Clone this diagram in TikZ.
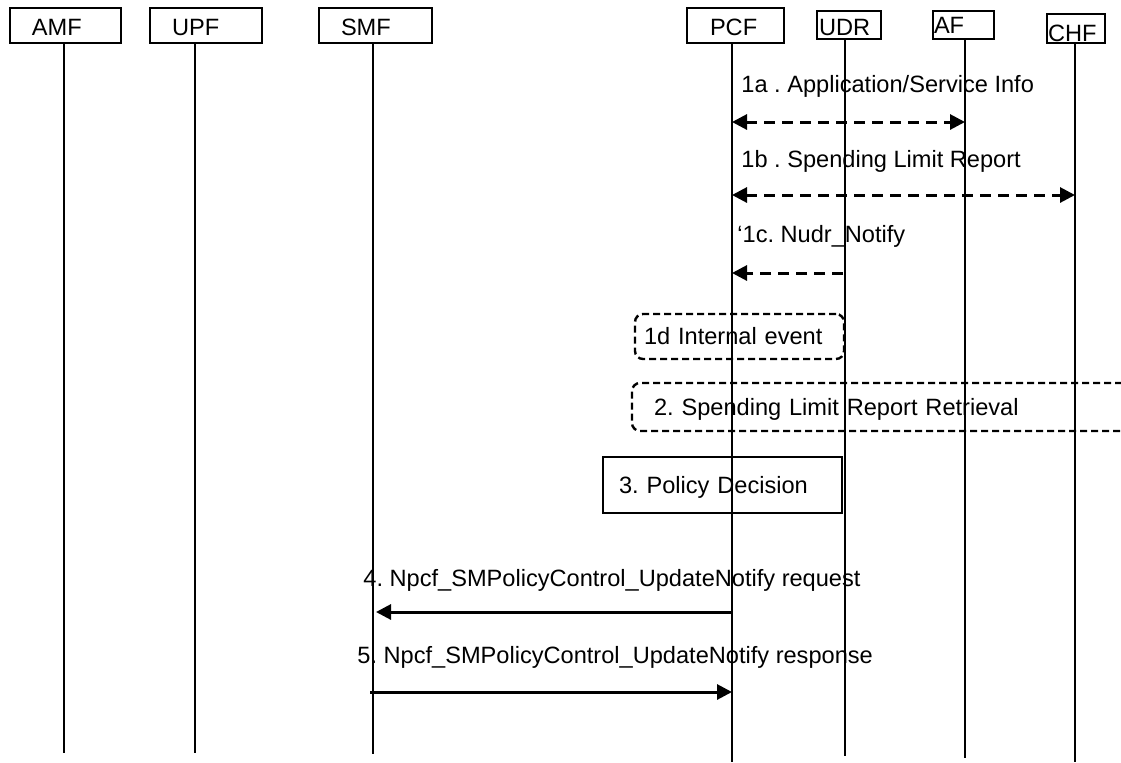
\documentclass[tikz,border=0pt]{standalone}
\usepackage{fontspec}
\setmainfont{Liberation Sans}
\usetikzlibrary{arrows.meta}
\frenchspacing
\tikzset{
  every node/.style={font=\fontsize{11.8}{14}\selectfont},
  hdrbox/.style={draw, rectangle, line width=0.6pt, inner ysep=0pt, text height=10pt, text depth=0pt, align=left, minimum height=17.5pt},
  hdrthick/.style={hdrbox, line width=1pt, minimum height=14pt},
  lifeline/.style={line width=1pt},
  dmsg/.style={line width=1.5pt, dash pattern=on 5.5pt off 3.5pt},
  smsg/.style={line width=1.5pt},
  tip/.style={-{Triangle[length=7.5pt,width=7.5pt]}},
  bothtip/.style={{Triangle[length=7.5pt,width=7.5pt]}-{Triangle[length=7.5pt,width=7.5pt]}},
  lbl/.style={anchor=base west, inner sep=0pt},
  evbox/.style={draw, rectangle, rounded corners=4pt, line width=1.2pt, dash pattern=on 3.5pt off 2pt, inner ysep=0pt, text height=8.45pt, text depth=0pt, align=left},
  decbox/.style={draw, rectangle, line width=0.8pt, inner ysep=0pt, text height=8.45pt, text depth=0pt, align=left}
}
\begin{document}
\begin{tikzpicture}[x=0.5pt, y=-0.5pt]
\clip (0,0) rectangle (1121,762);
\fill[white] (0,0) rectangle (1121,762);

% header boxes
\node[hdrbox, inner xsep=11pt, text width=33.5pt] (amf) at (65.5,25.5) {AMF};
\node[hdrbox, inner xsep=11pt, text width=34pt] (upf) at (206,25.5) {UPF};
\node[hdrbox, inner xsep=11pt, text width=34.5pt] (smf) at (375.5,25.5) {SMF};
\node[hdrbox, inner xsep=11.5pt, text width=25.5pt] (pcf) at (735.5,25.5) {PCF};
\node[hdrthick, inner xsep=1pt, text width=30pt, text height=10pt] (udr) at (849,25) {UDR};
\node[hdrthick, inner xsep=0.5pt, text width=29.5pt, text height=8pt] (af) at (963.5,25) {AF};
\node[hdrthick, inner xsep=0.5pt, text width=28pt, text height=12.5pt, minimum height=14.5pt] (chf) at (1076,28.5) {CHF};

% lifeline ends
\coordinate (amfend) at (64,753);
\coordinate (upfend) at (194.5,753);
\coordinate (smfend) at (373,754);
\coordinate (pcfend) at (732,762);
\coordinate (udrend) at (845,756);
\coordinate (afend) at (965,758);
\coordinate (chfend) at (1075,762);

\draw[lifeline] (amf.south -| amfend) -- (amfend);
\draw[lifeline] (upf.south -| upfend) -- (upfend);
\draw[lifeline] (smf.south -| smfend) -- (smfend);
\draw[lifeline] (pcf.south -| pcfend) -- (pcfend);
\draw[lifeline] (udr.south -| udrend) -- (udrend);
\draw[lifeline] (af.south -| afend) -- (afend);
\draw[lifeline] (chf.south -| chfend) -- (chfend);

% message 1a
\node[lbl] (l1a) at (741,92) {1a . Application/Service Info};
\coordinate (p1a) at (732,122);
\coordinate (a1a) at (965,122);
\draw[dmsg, bothtip] (p1a) -- (a1a);

% message 1b
\node[lbl] (l1b) at (741,167) {1b . Spending Limit Report};
\coordinate (p1b) at (732,195);
\coordinate (c1b) at (1075,195);
\draw[dmsg, bothtip] (p1b) -- (c1b);

% message 1c
\node[lbl] (l1c) at (737,242) {`1c. Nudr\_Notify};
\coordinate (u1c) at (843,273);
\coordinate (p1c) at (732,273);
\draw[dmsg, tip] (u1c) -- (p1c);

% 1d internal event
\node[evbox, inner xsep=4.5pt, text width=95.5pt, minimum height=22.5pt] (ev1d) at (739.5,336.5) {1d Internal event};

% 2 spending limit report retrieval
\node[evbox, inner xsep=11pt, text width=227pt, minimum height=24pt] (ret2) at (881,407) {2. Spending Limit Report Retrieval};

% 3 policy decision
\node[decbox, inner xsep=8pt, text width=103.5pt, minimum height=28pt] (dec3) at (722.5,485) {3. Policy Decision};

% message 4
\node[lbl] (l4) at (363,586) {4. Npcf\_SMPolicyControl\_UpdateNotify request};
\coordinate (p4) at (732,612);
\coordinate (s4) at (376,612);
\draw[smsg, tip] (p4) -- (s4);

% message 5
\node[lbl] (l5) at (357,663) {5. Npcf\_SMPolicyControl\_UpdateNotify response};
\coordinate (s5) at (370,692);
\coordinate (p5) at (732,692);
\draw[smsg, tip] (s5) -- (p5);
\end{tikzpicture}
\end{document}
